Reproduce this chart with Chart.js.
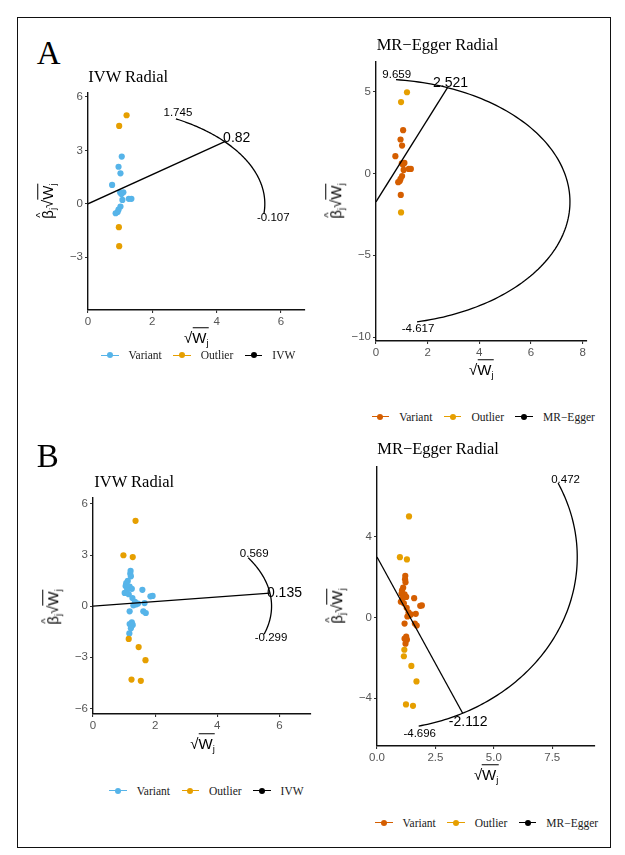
<!DOCTYPE html>
<html>
<head>
<meta charset="utf-8">
<script src="https://cdn.jsdelivr.net/npm/chart.js@4.4.1/dist/chart.umd.min.js"></script>
<style>
  body { margin: 0; background: #fff; width: 625px; height: 855px; position: relative; overflow: hidden; }
  .frame { position: absolute; left: 17px; top: 17px; width: 592px; height: 829px; border: 1.5px solid #111; }
  canvas { position: absolute; }
  .txt { position: absolute; line-height: 1; white-space: nowrap; transform: translateY(-50%); color: #000; }
  .tag { font-family: "Liberation Serif", serif; font-size: 33px; }
  .ttl { font-family: "Liberation Serif", serif; font-size: 16.5px; }
  .atl { position: absolute; line-height: 1; white-space: nowrap; font-family: "Liberation Sans", Arial, sans-serif; font-size: 15px; color: #000; }
  .atl sub { font-size: 9.5px; vertical-align: -3px; }
  .ov { border-top: 1.2px solid #000; padding-top: 1px; }
  .hat { position: relative; display: inline-block; }
  .hat .h { position: absolute; left: 1px; top: -5px; font-size: 11px; }
  .leg { position: absolute; display: flex; align-items: center; transform: translateY(-50%);
         font-family: "Liberation Serif", serif; font-size: 11.5px; color: #1a1a1a; white-space: nowrap; }
  .key { position: relative; width: 17.5px; height: 7px; margin-right: 10px; }
  .key .ln { position: absolute; left: 0; right: 0; top: 3px; height: 1.3px; }
  .key .dt { position: absolute; left: 5.8px; top: 0.8px; width: 6px; height: 6px; border-radius: 50%; }
  .lab { margin-right: 11.5px; }
</style>
</head>
<body>
<div class="frame"></div>
<script>
// panel A: radial points (sqrt(Wj), beta*sqrt(Wj))
const aSqrtW     = [1.20, 0.97, 1.05, 0.95, 1.01, 0.75, 1.00, 1.10, 1.04, 1.07, 1.27, 1.35, 1.01, 0.95, 0.92, 0.86, 0.96, 0.97];
const aBetaSqrtW = [4.97, 4.37, 2.65, 2.08, 1.71, 1.06, 0.63, 0.65, 0.55, 0.22, 0.28, 0.28, -0.15, -0.33, -0.46, -0.53, -1.31, -2.38];
const aOutlierIVW   = [1, 1, 0, 0, 0, 0, 0, 0, 0, 0, 0, 0, 0, 0, 0, 0, 1, 1];
const aOutlierEgger = [1, 1, 0, 0, 0, 0, 0, 0, 0, 0, 0, 0, 0, 0, 0, 0, 0, 1];

// panel B
const bSqrtW     = [1.37, 0.98, 1.28, 1.21, 1.20, 1.22, 1.12, 1.07, 1.05, 1.18, 1.25, 1.10, 1.59, 1.02, 1.15, 1.27, 1.85, 1.92,
                    1.35, 1.45, 1.66, 1.30, 1.38, 1.18, 1.62, 1.70, 1.25, 1.18, 1.28, 1.22, 1.17, 1.15, 1.47, 1.69, 1.24, 1.54];
const bBetaSqrtW = [5.01, 2.99, 2.88, 2.07, 1.90, 1.75, 1.48, 1.35, 1.18, 1.15, 1.02, 0.95, 0.96, 0.78, 0.70, 0.48, 0.58, 0.60,
                    0.25, 0.15, 0.18, 0.05, 0.10, -0.30, -0.30, -0.40, -0.95, -1.05, -1.10, -1.30, -1.60, -1.92, -2.40, -3.17, -4.31, -4.38];
const bOutlierIVW   = [1, 1, 1, 0, 0, 0, 0, 0, 0, 0, 0, 0, 0, 0, 0, 0, 0, 0,
                       0, 0, 0, 0, 0, 0, 0, 0, 0, 0, 0, 0, 0, 1, 1, 1, 1, 1];
const bOutlierEgger = [1, 1, 1, 0, 0, 0, 0, 0, 0, 0, 0, 0, 0, 0, 0, 0, 0, 0,
                       0, 0, 0, 0, 0, 0, 0, 0, 0, 0, 0, 0, 1, 1, 1, 1, 1, 1];

// fitted estimates with the arc range (slopes) and arc radius
const aIvwFit   = { slope: 0.82,   intercept: 0,     lo: -0.107, hi: 1.745, r: 5.5 };
const aEggerFit = { slope: 2.521,  intercept: -1.73, lo: -4.617, hi: 9.659, r: 7.51 };
const bIvwFit   = { slope: 0.135,  intercept: 0,     lo: -0.299, hi: 0.569, r: 5.75 };
const bEggerFit = { slope: -2.112, intercept: 3.0,   lo: -4.696, hi: 0.472, r: 8.57 };

// ticks
const aIvwXTicks = [0, 2, 4, 6];
const aIvwYTicks = [-3, 0, 3, 6];
const aEggerXTicks = [0, 2, 4, 6, 8];
const aEggerYTicks = [-10, -5, 0, 5];
const bIvwXTicks = [0, 2, 4, 6];
const bIvwYTicks = [-6, -3, 0, 3, 6];
const bEggerXTicks = [0, 2.5, 5, 7.5];
const bEggerYTicks = [-4, 0, 4];

const legendLabels = ['Variant', 'Outlier'];

const BLUE = '#56B4E9', ORANGE = '#E69F00', RED = '#D55E00';
const YW = 40, XH = 25, PT = 10, PR = 12;

const arcPlugin = {
  id: 'radialArc',
  afterDatasetsDraw(chart, args, opts) {
    const { ctx } = chart;
    const xs = chart.scales.x, ys = chart.scales.y;
    const f = opts.fit;
    const px = t => xs.getPixelForValue(f.r * Math.cos(t));
    const py = t => ys.getPixelForValue(f.intercept + f.r * Math.sin(t));
    const t0 = Math.atan(f.hi), t1 = Math.atan(f.lo);
    ctx.save();
    ctx.beginPath();
    const n = 120;
    for (let i = 0; i <= n; i++) {
      const t = t0 + (t1 - t0) * i / n;
      if (i === 0) ctx.moveTo(px(t), py(t)); else ctx.lineTo(px(t), py(t));
    }
    ctx.lineWidth = 1.3;
    ctx.strokeStyle = '#000';
    ctx.stroke();
    ctx.fillStyle = '#000';
    ctx.textAlign = 'center';
    ctx.textBaseline = 'middle';
    const items = [[f.hi, 11.5, opts.off[0]], [f.slope, 14, opts.off[1]], [f.lo, 11.5, opts.off[2]]];
    items.forEach(([v, size, o]) => {
      const t = Math.atan(v);
      ctx.font = size + 'px "Liberation Sans", Arial, sans-serif';
      ctx.fillText(String(v), px(t) + o[0], py(t) + o[1]);
    });
    ctx.restore();
  }
};

const fmtInt = v => (v < 0 ? '\u2212' + Math.abs(v) : String(v));
const fmtOne = v => v.toFixed(1);

const panels = [
  { L: 87.7, T: 92.7, R: 305, B: 309.3, xMax: 6.75, yMin: -5.96, yMax: 6.22,
    xTicks: aIvwXTicks, yTicks: aIvwYTicks, xFmt: fmtInt,
    xs: aSqrtW, ys: aBetaSqrtW, out: aOutlierIVW, variant: BLUE, fit: aIvwFit, fitName: 'IVW',
    off: [[2, -6], [12, -4], [9.5, 4]],
    tag: 'A', tagY: 52.5, title: 'IVW Radial', titleX: 88.3, titleY: 76.7, legX: 101, legY: 355 },
  { L: 376, T: 61.7, R: 586.7, B: 341, xMax: 8.17, yMin: -10.24, yMax: 6.82,
    xTicks: aEggerXTicks, yTicks: aEggerYTicks, xFmt: fmtInt,
    xs: aSqrtW, ys: aBetaSqrtW, out: aOutlierEgger, variant: RED, fit: aEggerFit, fitName: 'MR\u2212Egger',
    off: [[0.7, -5], [3, -5], [1, 6.5]],
    title: 'MR\u2212Egger Radial', titleX: 376.7, titleY: 45, legX: 371.7, legY: 416.7 },
  { L: 93.3, T: 498.3, R: 311.7, B: 714.7, xMax: 7.02, yMin: -6.33, yMax: 6.35,
    xTicks: bIvwXTicks, yTicks: bIvwYTicks, xFmt: fmtInt,
    xs: bSqrtW, ys: bBetaSqrtW, out: bOutlierIVW, variant: BLUE, fit: bIvwFit, fitName: 'IVW',
    off: [[6, -4], [14.5, 0], [7, 3.5]],
    tag: 'B', tagY: 456, title: 'IVW Radial', titleX: 94.3, titleY: 481.7, legX: 109.3, legY: 790.7 },
  { L: 377.3, T: 466.7, R: 595, B: 746, xMax: 9.33, yMin: -6.37, yMax: 7.46,
    xTicks: bEggerXTicks, yTicks: bEggerYTicks, xFmt: fmtOne,
    xs: bSqrtW, ys: bBetaSqrtW, out: bOutlierEgger, variant: RED, fit: bEggerFit, fitName: 'MR\u2212Egger',
    off: [[7.5, -3.5], [5.5, 8.5], [1, 8]],
    title: 'MR\u2212Egger Radial', titleX: 377.3, titleY: 449, legX: 375, legY: 822.7 }
];

function addText(cls, html, left, top) {
  const d = document.createElement('div');
  d.className = 'txt ' + cls;
  d.innerHTML = html;
  d.style.left = left + 'px';
  d.style.top = top + 'px';
  document.body.appendChild(d);
  return d;
}

function axisTitles(p) {
  const cy = (p.T + p.B) / 2, cx = (p.L + p.R) / 2;
  const yt = document.createElement('div');
  yt.className = 'atl';
  yt.innerHTML = '<span class="hat">\u03B2<span class="h">^</span></span><sub>j</sub>\u221A<span class="ov">W<sub>j</sub></span>';
  yt.style.left = (p.L - 39) + 'px';
  yt.style.top = cy + 'px';
  yt.style.transform = 'translate(-50%,-50%) rotate(-90deg)';
  document.body.appendChild(yt);
  const xt = document.createElement('div');
  xt.className = 'atl';
  xt.innerHTML = '\u221A<span class="ov">W<sub>j</sub></span>';
  xt.style.left = cx + 'px';
  xt.style.top = (p.B + 30) + 'px';
  xt.style.transform = 'translate(-50%,-50%)';
  document.body.appendChild(xt);
}

function legend(p) {
  const d = document.createElement('div');
  d.className = 'leg';
  d.style.left = p.legX + 'px';
  d.style.top = p.legY + 'px';
  const names = legendLabels.concat([p.fitName]);
  const cols = [p.variant, ORANGE, '#000'];
  names.forEach((n, i) => {
    d.innerHTML += '<span class="key"><span class="ln" style="background:' + cols[i] + '"></span>' +
      '<span class="dt" style="background:' + cols[i] + '"></span></span><span class="lab">' + n + '</span>';
  });
  document.body.appendChild(d);
}

panels.forEach(p => {
  const cv = document.createElement('canvas');
  const w = Math.round(YW + (p.R - p.L) + PR), h = Math.round(PT + (p.B - p.T) + XH);
  cv.width = w; cv.height = h;
  cv.style.width = w + 'px'; cv.style.height = h + 'px';
  cv.style.left = (p.L - YW) + 'px';
  cv.style.top = (p.T - PT) + 'px';
  document.body.appendChild(cv);

  const variantPts = [], outlierPts = [];
  p.xs.forEach((x, i) => (p.out[i] ? outlierPts : variantPts).push({ x: x, y: p.ys[i] }));
  const th = Math.atan(p.fit.slope);
  const fitLine = [
    { x: 0, y: p.fit.intercept },
    { x: p.fit.r * Math.cos(th), y: p.fit.intercept + p.fit.r * Math.sin(th) }
  ];

  const tickFont = { family: '"Liberation Sans", Arial, sans-serif', size: 11.5 };
  new Chart(cv, {
    type: 'scatter',
    data: {
      datasets: [
        { label: p.fitName, data: fitLine, showLine: true, borderColor: '#000', borderWidth: 1.3,
          pointRadius: 0, pointHoverRadius: 0, fill: false },
        { label: 'Outlier', data: outlierPts, backgroundColor: ORANGE, borderWidth: 0, pointRadius: 3.1 },
        { label: 'Variant', data: variantPts, backgroundColor: p.variant, borderWidth: 0, pointRadius: 3.1 }
      ]
    },
    options: {
      responsive: false,
      animation: false,
      devicePixelRatio: 1,
      events: [],
      layout: { padding: { top: PT, right: PR, left: 0, bottom: 0 } },
      plugins: {
        legend: { display: false },
        tooltip: { enabled: false },
        radialArc: { fit: p.fit, off: p.off }
      },
      scales: {
        x: {
          type: 'linear', min: 0, max: p.xMax,
          afterBuildTicks: s => { s.ticks = p.xTicks.map(v => ({ value: v })); },
          afterFit: s => { s.height = XH; s.paddingLeft = 0; s.paddingRight = 0; },
          grid: { drawOnChartArea: false, color: '#333', tickLength: 3, lineWidth: 1.1 },
          border: { color: '#111', width: 1.4 },
          ticks: { color: '#555', font: tickFont, padding: 2, autoSkip: false, maxRotation: 0,
                   callback: v => p.xFmt(v) }
        },
        y: {
          type: 'linear', min: p.yMin, max: p.yMax,
          afterBuildTicks: s => { s.ticks = p.yTicks.map(v => ({ value: v })); },
          afterFit: s => { s.width = YW; s.paddingTop = 0; s.paddingBottom = 0; },
          grid: { drawOnChartArea: false, color: '#333', tickLength: 3, lineWidth: 1.1 },
          border: { color: '#111', width: 1.4 },
          ticks: { color: '#555', font: tickFont, padding: 2, autoSkip: false,
                   callback: v => fmtInt(v) }
        }
      }
    },
    plugins: [arcPlugin]
  });

  if (p.tag) addText('tag', p.tag, 36.7, p.tagY);
  addText('ttl', p.title, p.titleX, p.titleY);
  axisTitles(p);
  legend(p);
});
</script>
</body>
</html>
